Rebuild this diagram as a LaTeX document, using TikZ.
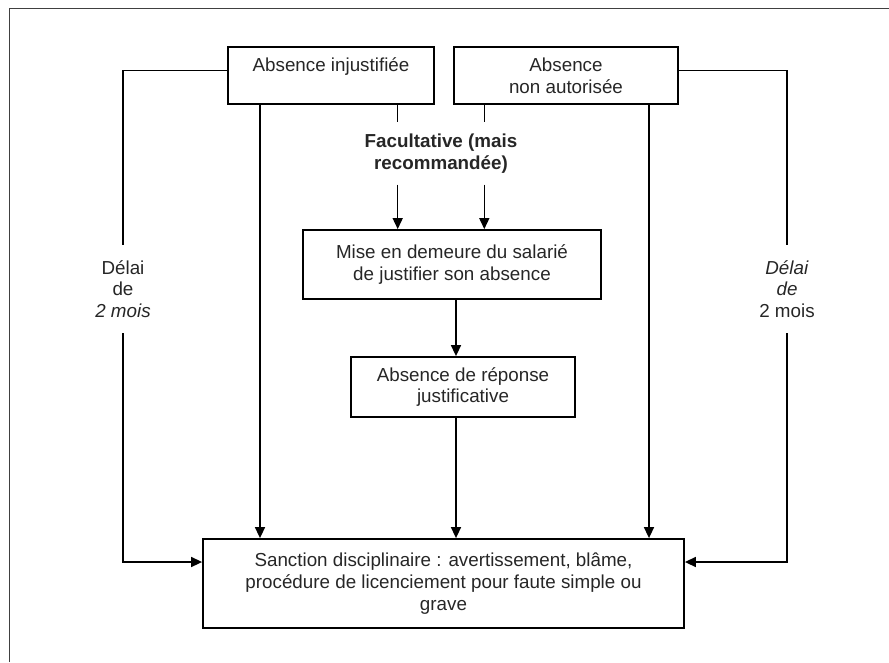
\documentclass[tikz,border=0pt]{standalone}
\usepackage{fontspec}
\setmainfont{Liberation Sans}
\usetikzlibrary{arrows.meta}
\newcommand{\fsz}{\fontsize{18.8}{21.7}\selectfont}
\begin{document}
\begin{tikzpicture}[x=1pt,y=-1pt,
  box/.style={draw=black, line width=1.8pt, align=center, inner sep=0pt, font=\fsz, text=black!85},
  lbl/.style={align=center, inner sep=0pt, font=\fsz, text=black!85},
  conn/.style={line width=1.5pt},
  arr/.style={conn, -{Triangle[length=11pt,width=10pt]}}]
\useasboundingbox (0,0) rectangle (889,662);
\draw[black!75, line width=1.6pt] (9.5,662) -- (9.5,8.5) -- (889,8.5);
% nodes
\node[box, minimum width=206pt, minimum height=57pt] (b1) at (331,75.5) {Absence injustifiée\\\phantom{x}};
\node[box, minimum width=224pt, minimum height=57pt] (b2) at (566,75.5) {Absence\\non autorisée};
\node[lbl, font=\fsz\bfseries, minimum height=62pt] (fac) at (441,153.5) {Facultative (mais\\recommandée)};
\node[box, minimum width=298pt, minimum height=69pt] (mise) at (452,264.5) {Mise en demeure du salarié\\de justifier son absence};
\node[box, minimum width=224pt, minimum height=60pt] (rep) at (463,387) {Absence de réponse\\justificative};
\node[box, minimum width=481pt, minimum height=89pt] (sanc) at (443.5,583.5) {Sanction disciplinaire : avertissement, blâme,\\procédure de licenciement pour faute simple ou\\grave};
\node[lbl, minimum height=88pt] (dl) at (123,289) {Délai\\de\\\textit{2 mois}};
\node[lbl, minimum height=88pt] (dr) at (787,289) {\textit{Délai}\\\textit{de}\\2 mois};
% helper coordinates
\coordinate (yt) at (0,70.7);
\coordinate (ys) at (0,562);
\coordinate (xa) at (260,0);
\coordinate (xf1) at (397.7,0);
\coordinate (xf2) at (484.3,0);
\coordinate (xb) at (649,0);
\coordinate (xm) at (456,0);
% connectors
\draw[conn] (b1.west |- yt) -| (dl.north);
\draw[arr] (dl.south) |- (sanc.west |- ys);
\draw[conn] (b2.east |- yt) -| (dr.north);
\draw[arr] (dr.south) |- (sanc.east |- ys);
\draw[arr] (b1.south -| xa) -- (sanc.north -| xa);
\draw[conn] (b1.south -| xf1) -- (fac.north -| xf1);
\draw[arr] (fac.south -| xf1) -- (mise.north -| xf1);
\draw[conn] (b2.south -| xf2) -- (fac.north -| xf2);
\draw[arr] (fac.south -| xf2) -- (mise.north -| xf2);
\draw[arr] (b2.south -| xb) -- (sanc.north -| xb);
\draw[arr] (mise.south -| xm) -- (rep.north -| xm);
\draw[arr] (rep.south -| xm) -- (sanc.north -| xm);
\end{tikzpicture}
\end{document}
